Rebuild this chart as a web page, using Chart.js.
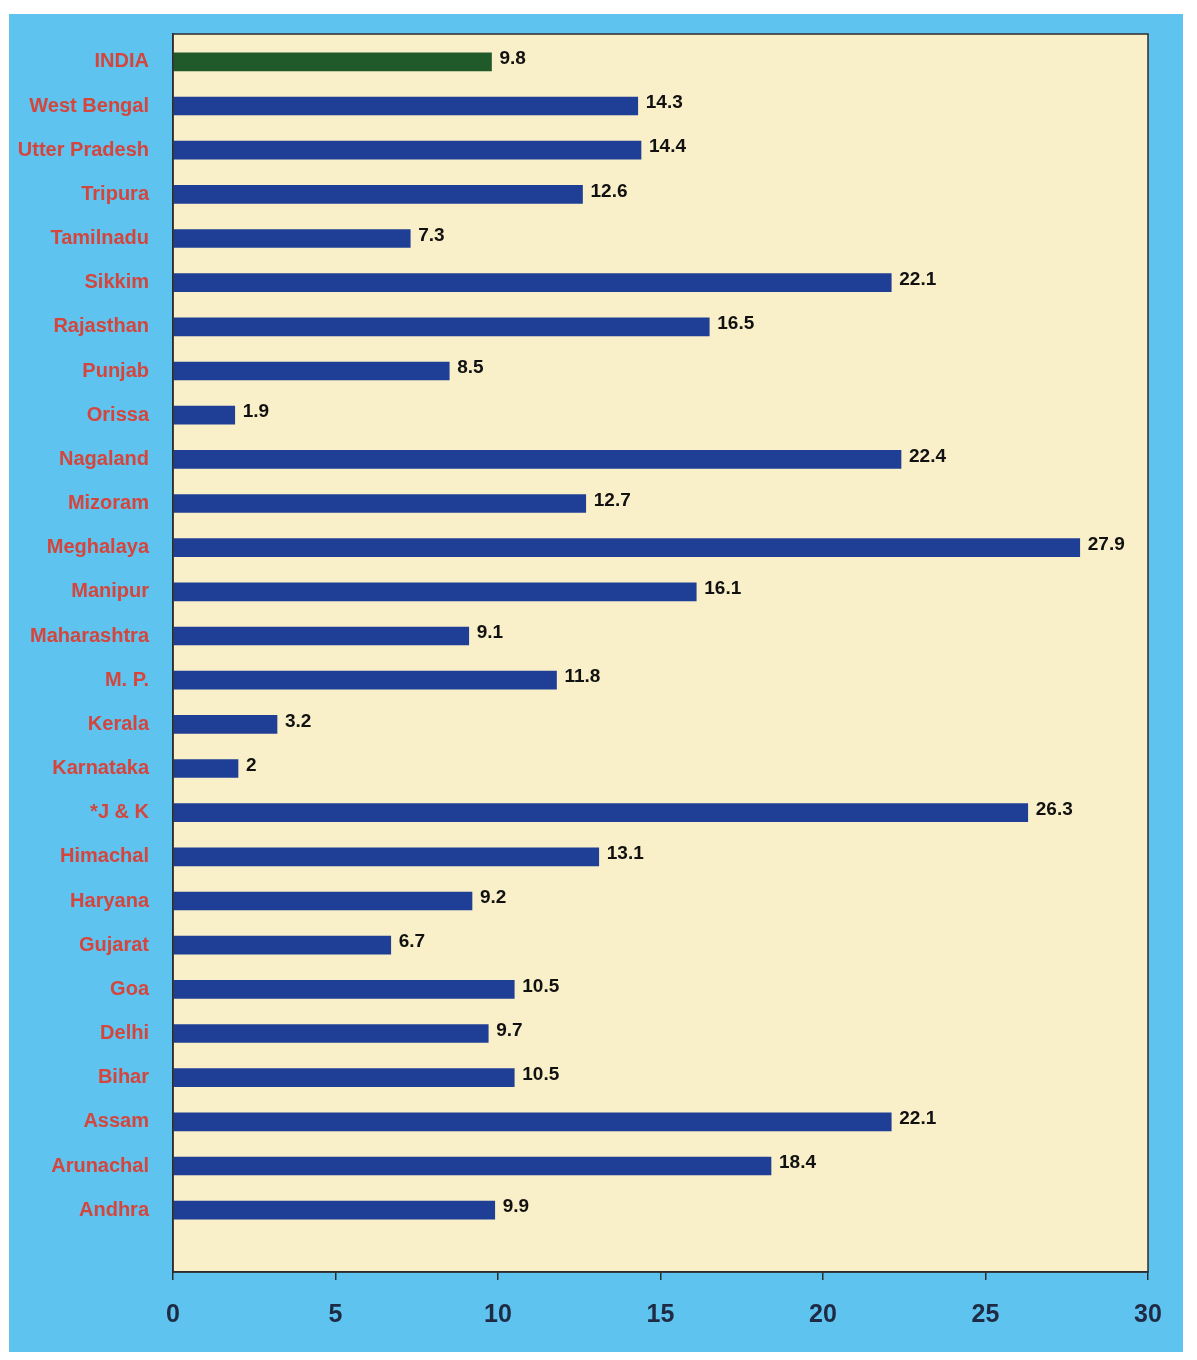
<!DOCTYPE html>
<html>
<head>
<meta charset="utf-8">
<script src="https://cdn.jsdelivr.net/npm/chart.js@4.4.1/dist/chart.umd.min.js"></script>
<style>
html,body{margin:0;padding:0;background:#ffffff;}
#wrap{position:relative;width:1197px;height:1360px;}
</style>
</head>
<body>
<div id="wrap"><canvas id="c" width="1197" height="1360"></canvas></div>
<script>
const categories = ["INDIA","West Bengal","Utter Pradesh","Tripura","Tamilnadu","Sikkim","Rajasthan","Punjab","Orissa","Nagaland","Mizoram","Meghalaya","Manipur","Maharashtra","M. P.","Kerala","Karnataka","*J & K","Himachal","Haryana","Gujarat","Goa","Delhi","Bihar","Assam","Arunachal","Andhra"];
const values = [9.8,14.3,14.4,12.6,7.3,22.1,16.5,8.5,1.9,22.4,12.7,27.9,16.1,9.1,11.8,3.2,2,26.3,13.1,9.2,6.7,10.5,9.7,10.5,22.1,18.4,9.9];
const xTicks = [0,5,10,15,20,25,30];

const BLUE_BG = '#5ec3ee';
const PLOT_BG = '#f9efc8';
const BAR = '#1e3f95';
const INDIA_BAR = '#215a2a';
const LABEL_RED = '#d4463d';

const points = values.map((v,i)=>({x:v,y:i}));
const colors = categories.map(c => c === 'INDIA' ? INDIA_BAR : BAR);

const bgPlugin = {
  id:'bg',
  beforeDraw(chart){
    const ctx = chart.ctx, a = chart.chartArea;
    ctx.save();
    ctx.fillStyle = '#ffffff';
    ctx.fillRect(0,0,chart.width,chart.height);
    ctx.fillStyle = BLUE_BG;
    ctx.fillRect(9,14,1174,1338);
    ctx.fillStyle = PLOT_BG;
    ctx.fillRect(a.left,a.top,a.right-a.left,a.bottom-a.top);
    ctx.restore();
  },
  afterDatasetsDraw(chart){
    const ctx = chart.ctx, a = chart.chartArea;
    ctx.save();
    ctx.strokeStyle = '#2d2d2d';
    ctx.lineWidth = 1.5;
    ctx.strokeRect(a.left,a.top,a.right-a.left,a.bottom-a.top);
    const meta = chart.getDatasetMeta(0);
    ctx.fillStyle = '#111111';
    ctx.font = 'bold 19px "Liberation Sans", Arial, sans-serif';
    ctx.textAlign = 'left';
    ctx.textBaseline = 'middle';
    meta.data.forEach((el,i)=>{
      ctx.fillText(String(values[i]), el.x + 8, el.y - 3);
    });
    ctx.restore();
  }
};

new Chart(document.getElementById('c'), {
  type:'bar',
  data:{
    datasets:[{
      data: points,
      backgroundColor: colors,
      borderWidth: 0,
      barThickness: 18
    }]
  },
  options:{
    indexAxis:'y',
    responsive:false,
    animation:false,
    layout:{padding:{top:34,right:49,left:0,bottom:0}},
    plugins:{legend:{display:false},tooltip:{enabled:false},title:{display:false}},
    scales:{
      y:{
        type:'linear',
        offset:false,
        reverse:true,
        min:-0.63,
        max:27.4,
        afterBuildTicks(scale){ scale.ticks = categories.map((c,i)=>({value:i})); },
        afterFit(scale){ scale.width = 173; },
        grid:{display:false,offset:false},
        border:{display:true,color:'#2d2d2d',width:1.5},
        ticks:{
          autoSkip:false,
          padding:16,
          color:LABEL_RED,
          font:{family:'"Liberation Sans", Arial, sans-serif',weight:'bold',size:20},
          callback:(v)=>categories[v]
        }
      },
      x:{
        type:'linear',
        min:0,
        max:30,
        afterBuildTicks(scale){ scale.ticks = xTicks.map(v=>({value:v})); },
        afterFit(scale){ scale.height = 88; },
        grid:{display:true,drawOnChartArea:false,drawTicks:true,tickLength:8,color:'#2d2d2d',lineWidth:1.5},
        border:{display:true,color:'#2d2d2d',width:1.5},
        ticks:{
          padding:20,
          color:'#1f2a44',
          font:{family:'"Liberation Sans", Arial, sans-serif',weight:'bold',size:25}
        }
      }
    }
  },
  plugins:[bgPlugin]
});
</script>
</body>
</html>
